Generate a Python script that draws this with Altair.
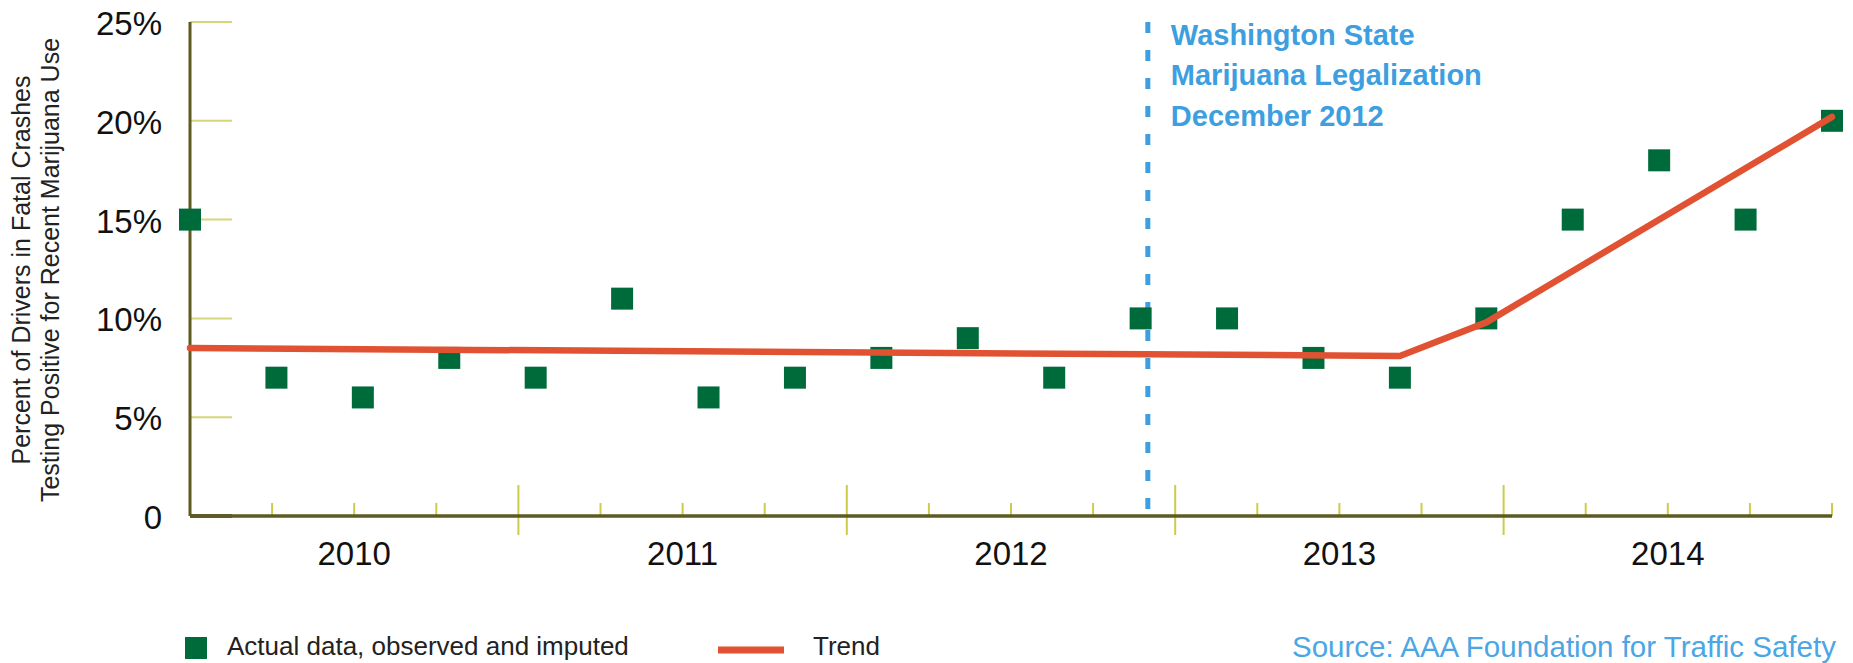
import altair as alt
import pandas as pd

# ---------------- data ----------------
point_index = list(range(20))                      # 20 quarterly observations, 2010-2014
actual_pct = [15, 7, 6, 8, 7, 11, 6, 7, 8, 9, 7, 10, 10, 8, 7, 10, 15, 18, 15, 20]
trend_index = [0, 14, 15, 19]
trend_pct = [8.5, 8.1, 9.8, 20.2]
years = ["2010", "2011", "2012", "2013", "2014"]
quarter_bounds = list(range(1, 21))                # quarter boundaries shown as ticks
y_tick_values = [0, 5, 10, 15, 20, 25]
legal_month = [35]                                 # months after Jan 2010 -> December 2012
annotation_lines = ["Washington State", "Marijuana Legalization", "December 2012"]
legend_labels = ["Actual data, observed and imputed", "Trend"]
source_label = ["Source: AAA Foundation for Traffic Safety"]
y_title = ["Percent of Drivers in Fatal Crashes", "Testing Positive for Recent Marijuana Use"]

# ---------------- style ----------------
W, H = 1642, 494
TOP = 14
GREEN = "#006b3a"
RED = "#e05232"
BLUE = "#3d9fe0"
AXIS = "#5d5a22"
TICK = "#cccc4a"
YTICK = "#d6d67c"
FONT = "Liberation Sans"

N = len(point_index) - 1
NQ = len(quarter_bounds)
xs = alt.Scale(domain=[0, N], nice=False, zero=False)
ys = alt.Scale(domain=[0, 25], nice=False, zero=True)

points_df = pd.DataFrame({"i": point_index, "pct": actual_pct})
trend_df = pd.DataFrame({"i": trend_index, "pct": trend_pct})
qt_df = pd.DataFrame({"q": quarter_bounds})
year_df = pd.DataFrame({"year": years, "q": [4 * k + 2 for k in range(len(years))]})
legal_df = pd.DataFrame({"m": legal_month, "label": ["\n".join(annotation_lines)]})
ytick_df = pd.DataFrame({"v": y_tick_values})
title_df = pd.DataFrame({"label": ["\n".join(y_title)]})
one_df = pd.DataFrame({"v": [0]})
leg1_df = pd.DataFrame({"label": [legend_labels[0]]})
leg2_df = pd.DataFrame({"label": [legend_labels[1]]})
src_df = pd.DataFrame({"label": source_label})

qcalc = f"datum.q * {N} / {NQ}"


def X():
    return alt.X("i:Q", scale=xs, axis=None)


def Yv():
    return alt.Y("v:Q", scale=ys, axis=None)


# axis lines
y_domain = alt.Chart(one_df).mark_rule(color=AXIS, strokeWidth=3).encode(
    x=alt.value(0), y=alt.value(0), y2=alt.value(H)
)
x_domain = alt.Chart(one_df).mark_rule(color=AXIS, strokeWidth=3.5).encode(
    y=alt.value(H), x=alt.value(0), x2=alt.value(W)
)

# y ticks (drawn inward)
ytick_layer = alt.Chart(ytick_df).mark_rule().encode(
    y=Yv(),
    x=alt.value(0),
    x2=alt.value(42),
    color=alt.condition("datum.v == 0", alt.value("#33330f"), alt.value(YTICK)),
    strokeWidth=alt.condition("datum.v == 0", alt.value(3.5), alt.value(2)),
)

ytick_labels = alt.Chart(ytick_df).transform_calculate(
    lab="datum.v == 0 ? '0' : datum.v + '%'"
).mark_text(font=FONT, fontSize=33, color="#111111", align="right",
            baseline="middle", dy=3).encode(
    y=Yv(), x=alt.value(-28), text="lab:N"
)

y_title_text = alt.Chart(title_df).mark_text(
    font=FONT, fontSize=25, color="#222222", angle=270, align="center",
    baseline="middle", lineBreak="\n", lineHeight=29
).encode(x=alt.value(-168.5), y=alt.value(248), text="label:N")

minor_ticks = alt.Chart(qt_df).transform_filter(
    f"datum.q % 4 != 0 || datum.q == {NQ}"
).transform_calculate(i=qcalc).mark_rule(color=TICK, strokeWidth=2).encode(
    x=X(), y=alt.value(H - 13), y2=alt.value(H)
)

major_ticks = alt.Chart(qt_df).transform_filter(
    f"datum.q % 4 == 0 && datum.q < {NQ}"
).transform_calculate(i=qcalc).mark_rule(color=TICK, strokeWidth=2).encode(
    x=X(), y=alt.value(H - 31), y2=alt.value(H + 19)
)

legal_line = alt.Chart(legal_df).transform_calculate(
    i=f"datum.m / 3 * {N} / {NQ}"
).mark_rule(color=BLUE, strokeWidth=5, strokeDash=[11, 17]).encode(
    x=X(), y=alt.value(0), y2=alt.value(H)
)

points = alt.Chart(points_df).mark_square(size=484, color=GREEN, opacity=1).encode(
    x=X(), y=alt.Y("pct:Q", scale=ys, axis=None)
)

trend = alt.Chart(trend_df).mark_line(color=RED, strokeWidth=6.5, strokeCap="round",
                                      strokeJoin="round").encode(
    x=X(), y=alt.Y("pct:Q", scale=ys, axis=None)
)

year_labels = alt.Chart(year_df).transform_calculate(i=qcalc).mark_text(
    font=FONT, fontSize=33, color="#111111", align="center", baseline="middle"
).encode(x=X(), y=alt.value(H + 39), text="year:N")

annotation = alt.Chart(legal_df).transform_calculate(
    i=f"datum.m / 3 * {N} / {NQ}"
).mark_text(
    font=FONT, fontSize=29, fontWeight="bold", color=BLUE, align="left",
    baseline="alphabetic", lineBreak="\n", lineHeight=40.5, dx=23
).encode(x=X(), y=alt.value(22.5), text="label:N")

leg_sq = alt.Chart(leg1_df).mark_square(size=484, color=GREEN, opacity=1).encode(
    x=alt.value(6), y=alt.value(626)
)
leg_t1 = alt.Chart(leg1_df).mark_text(
    font=FONT, fontSize=26, color="#222222", align="left", baseline="alphabetic"
).encode(x=alt.value(37), y=alt.value(633), text="label:N")
leg_line = alt.Chart(leg2_df).mark_rule(color=RED, strokeWidth=7).encode(
    x=alt.value(528), x2=alt.value(594), y=alt.value(628)
)
leg_t2 = alt.Chart(leg2_df).mark_text(
    font=FONT, fontSize=26, color="#222222", align="left", baseline="alphabetic"
).encode(x=alt.value(623), y=alt.value(633), text="label:N")

source = alt.Chart(src_df).mark_text(
    font=FONT, fontSize=29.5, color="#4aa6e4", align="left", baseline="alphabetic"
).encode(x=alt.value(1102), y=alt.value(635), text="label:N")

chart = alt.layer(
    ytick_layer, minor_ticks, major_ticks, y_domain, x_domain, ytick_labels,
    y_title_text, legal_line, points, trend,
    year_labels, annotation, leg_sq, leg_t1, leg_line, leg_t2, source
).properties(
    width=W, height=H,
    autosize=alt.AutoSizeParams(type="none"),
    padding={"left": 182, "top": TOP, "right": 13, "bottom": 150},
    background="white",
).configure_view(stroke=None)

chart.save("out.html", embed_options={"renderer": "svg", "actions": False})
